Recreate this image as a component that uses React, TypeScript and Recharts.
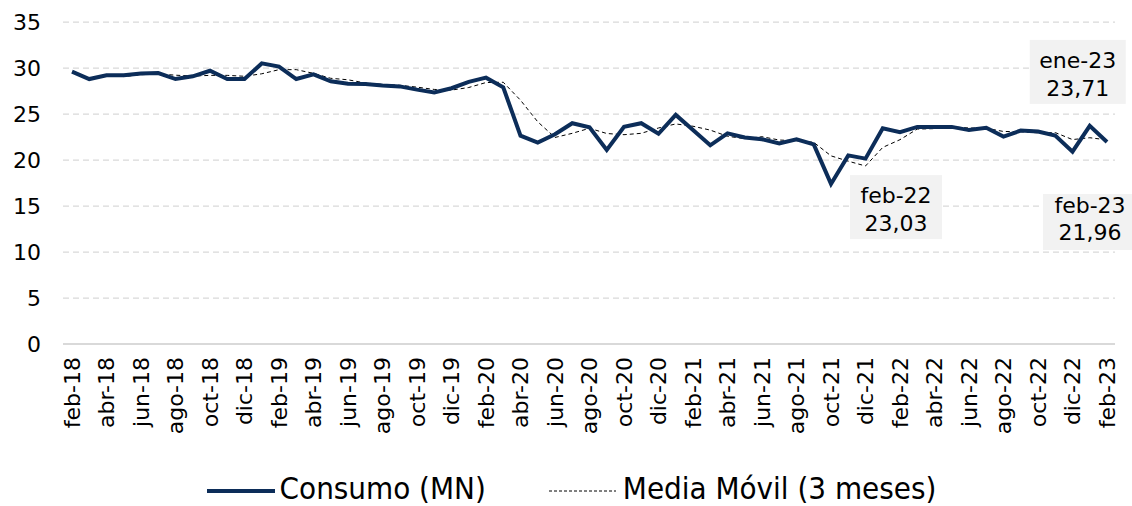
import { CartesianGrid, Legend, Line, LineChart, XAxis, YAxis } from "recharts";

// monthly categories, feb-18 .. feb-23
const months = [
  "feb-18", "mar-18", "abr-18", "may-18", "jun-18", "jul-18", "ago-18", "sep-18", "oct-18", "nov-18", "dic-18",
  "ene-19", "feb-19", "mar-19", "abr-19", "may-19", "jun-19", "jul-19", "ago-19", "sep-19", "oct-19", "nov-19", "dic-19",
  "ene-20", "feb-20", "mar-20", "abr-20", "may-20", "jun-20", "jul-20", "ago-20", "sep-20", "oct-20", "nov-20", "dic-20",
  "ene-21", "feb-21", "mar-21", "abr-21", "may-21", "jun-21", "jul-21", "ago-21", "sep-21", "oct-21", "nov-21", "dic-21",
  "ene-22", "feb-22", "mar-22", "abr-22", "may-22", "jun-22", "jul-22", "ago-22", "sep-22", "oct-22", "nov-22", "dic-22",
  "ene-23", "feb-23",
];

const consumo = [
  29.6, 28.8, 29.2, 29.2, 29.4, 29.45, 28.8, 29.1, 29.7, 28.8, 28.8,
  30.5, 30.15, 28.8, 29.3, 28.55, 28.3, 28.25, 28.1, 28.0, 27.65, 27.35, 27.8,
  28.5, 28.95, 27.9, 22.65, 21.9, 22.8, 24.0, 23.55, 21.1, 23.6, 24.0, 22.85,
  24.9, 23.25, 21.6, 22.9, 22.45, 22.25, 21.8, 22.25, 21.7, 17.4, 20.5, 20.15,
  23.45, 23.03, 23.6, 23.6, 23.6, 23.25, 23.5, 22.55, 23.2, 23.1, 22.65, 20.9,
  23.71, 21.96,
];

// 3-month moving average (starts at the 3rd month)
const mediaMovil = [
  null, null, 29.2, 29.07, 29.27, 29.35, 29.22, 29.12, 29.2, 29.2, 29.1,
  29.37, 29.82, 29.82, 29.42, 28.88, 28.72, 28.37, 28.22, 28.12, 27.92, 27.67, 27.6,
  27.88, 28.42, 28.45, 26.5, 24.15, 22.45, 22.9, 23.45, 22.88, 22.75, 22.9, 23.48,
  23.92, 23.67, 23.25, 22.58, 22.32, 22.53, 22.17, 22.1, 21.92, 20.45, 19.87, 19.35,
  21.37, 22.21, 23.36, 23.41, 23.6, 23.48, 23.45, 23.1, 23.08, 22.95, 22.98, 22.22,
  22.42, 22.19,
];

const yTicks = [0, 5, 10, 15, 20, 25, 30, 35];

const callouts: Record<string, string[]> = {
  "feb-22": ["feb-22", "23,03"],
  "ene-23": ["ene-23", "23,71"],
  "feb-23": ["feb-23", "21,96"],
};

// where each callout box sits relative to its point
const calloutPos: Record<string, { dx: number; dy: number; w: number; h: number; t1: number; t2: number }> = {
  "feb-22": { dx: -4, dy: 75, w: 92, h: 64, t1: -4, t2: 24 },
  "ene-23": { dx: -12, dy: -54, w: 96, h: 64, t1: -4, t2: 24 },
  "feb-23": { dx: -17, dy: 80, w: 94, h: 56, t1: -9, t2: 18 },
};

const data = months.map((m, i) => ({ month: m, consumo: consumo[i], media: mediaMovil[i] }));

const FONT = "DejaVu Sans";
const NAVY = "#0c2d59";

function MonthTick({ x, y, payload }: any) {
  return (
    <g transform={`translate(${x},${y + 13})`}>
      <text transform="rotate(-90)" textAnchor="end" dy="0.36em" fontSize={22} fontFamily={FONT} fill="#000">
        {payload.value}
      </text>
    </g>
  );
}

function CalloutDot({ cx, cy, index, payload }: any) {
  const lines = callouts[payload?.month];
  const pos = calloutPos[payload?.month];
  if (!lines || !pos) return <g key={`d${index}`} />;
  const bx = cx + pos.dx;
  const by = cy + pos.dy;
  return (
    <g key={`d${index}`}>
      <rect x={bx - pos.w / 2} y={by - pos.h / 2} width={pos.w} height={pos.h} fill="#f2f2f2" />
      <text x={bx} y={by + pos.t1} textAnchor="middle" fontSize={22} fontFamily={FONT} fill="#000">
        {lines[0]}
      </text>
      <text x={bx} y={by + pos.t2} textAnchor="middle" fontSize={22} fontFamily={FONT} fill="#000">
        {lines[1]}
      </text>
    </g>
  );
}

function ChartLegend() {
  const txt = { fontFamily: "DejaVu Sans Condensed", fontSize: 31, color: "#000", lineHeight: "36px" };
  return (
    <div style={{ display: "flex", justifyContent: "center", alignItems: "center", height: 36, paddingLeft: 28 }}>
      <svg width={68} height={36}>
        <line x1={0} y1={21} x2={68} y2={21} stroke={NAVY} strokeWidth={4} />
      </svg>
      <span style={{ ...txt, marginLeft: 5 }}>Consumo (MN)</span>
      <svg width={67} height={36} style={{ marginLeft: 63 }}>
        <line x1={0} y1={21} x2={67} y2={21} stroke="#000" strokeWidth={1} strokeDasharray="3 2" />
      </svg>
      <span style={{ ...txt, marginLeft: 7 }}>Media Móvil (3 meses)</span>
    </div>
  );
}

export default function App() {
  return (
    <div style={{ position: "absolute", left: 0, top: 0, width: 1132, height: 506, background: "#fff" }}>
      <LineChart width={1132} height={506} data={data} margin={{ top: 22, right: 17, bottom: 0, left: 0 }}>
        <CartesianGrid vertical={false} stroke="#d9d9d9" strokeDasharray="6 4" strokeWidth={1.25} />
        <XAxis
          dataKey="month"
          interval={1}
          height={126}
          tick={<MonthTick />}
          tickLine={false}
          tickSize={0}
          tickMargin={0}
          axisLine={{ stroke: "#d9d9d9", strokeWidth: 2 }}
          padding={{ left: 9, right: 8 }}
        />
        <YAxis
          domain={[0, 35]}
          ticks={yTicks}
          width={63}
          axisLine={false}
          tickLine={false}
          tickSize={0}
          tickMargin={22}
          tick={{ fontSize: 22, fontFamily: FONT, fill: "#000" }}
        />
        <Legend verticalAlign="bottom" height={36} content={() => <ChartLegend />} />
        <Line
          dataKey="media"
          stroke="#000"
          strokeWidth={1}
          strokeDasharray="4 3"
          dot={false}
          activeDot={false}
          isAnimationActive={false}
          connectNulls={false}
        />
        <Line
          dataKey="consumo"
          stroke={NAVY}
          strokeWidth={4}
          strokeLinejoin="miter"
          dot={<CalloutDot />}
          activeDot={false}
          isAnimationActive={false}
        />
      </LineChart>
    </div>
  );
}
